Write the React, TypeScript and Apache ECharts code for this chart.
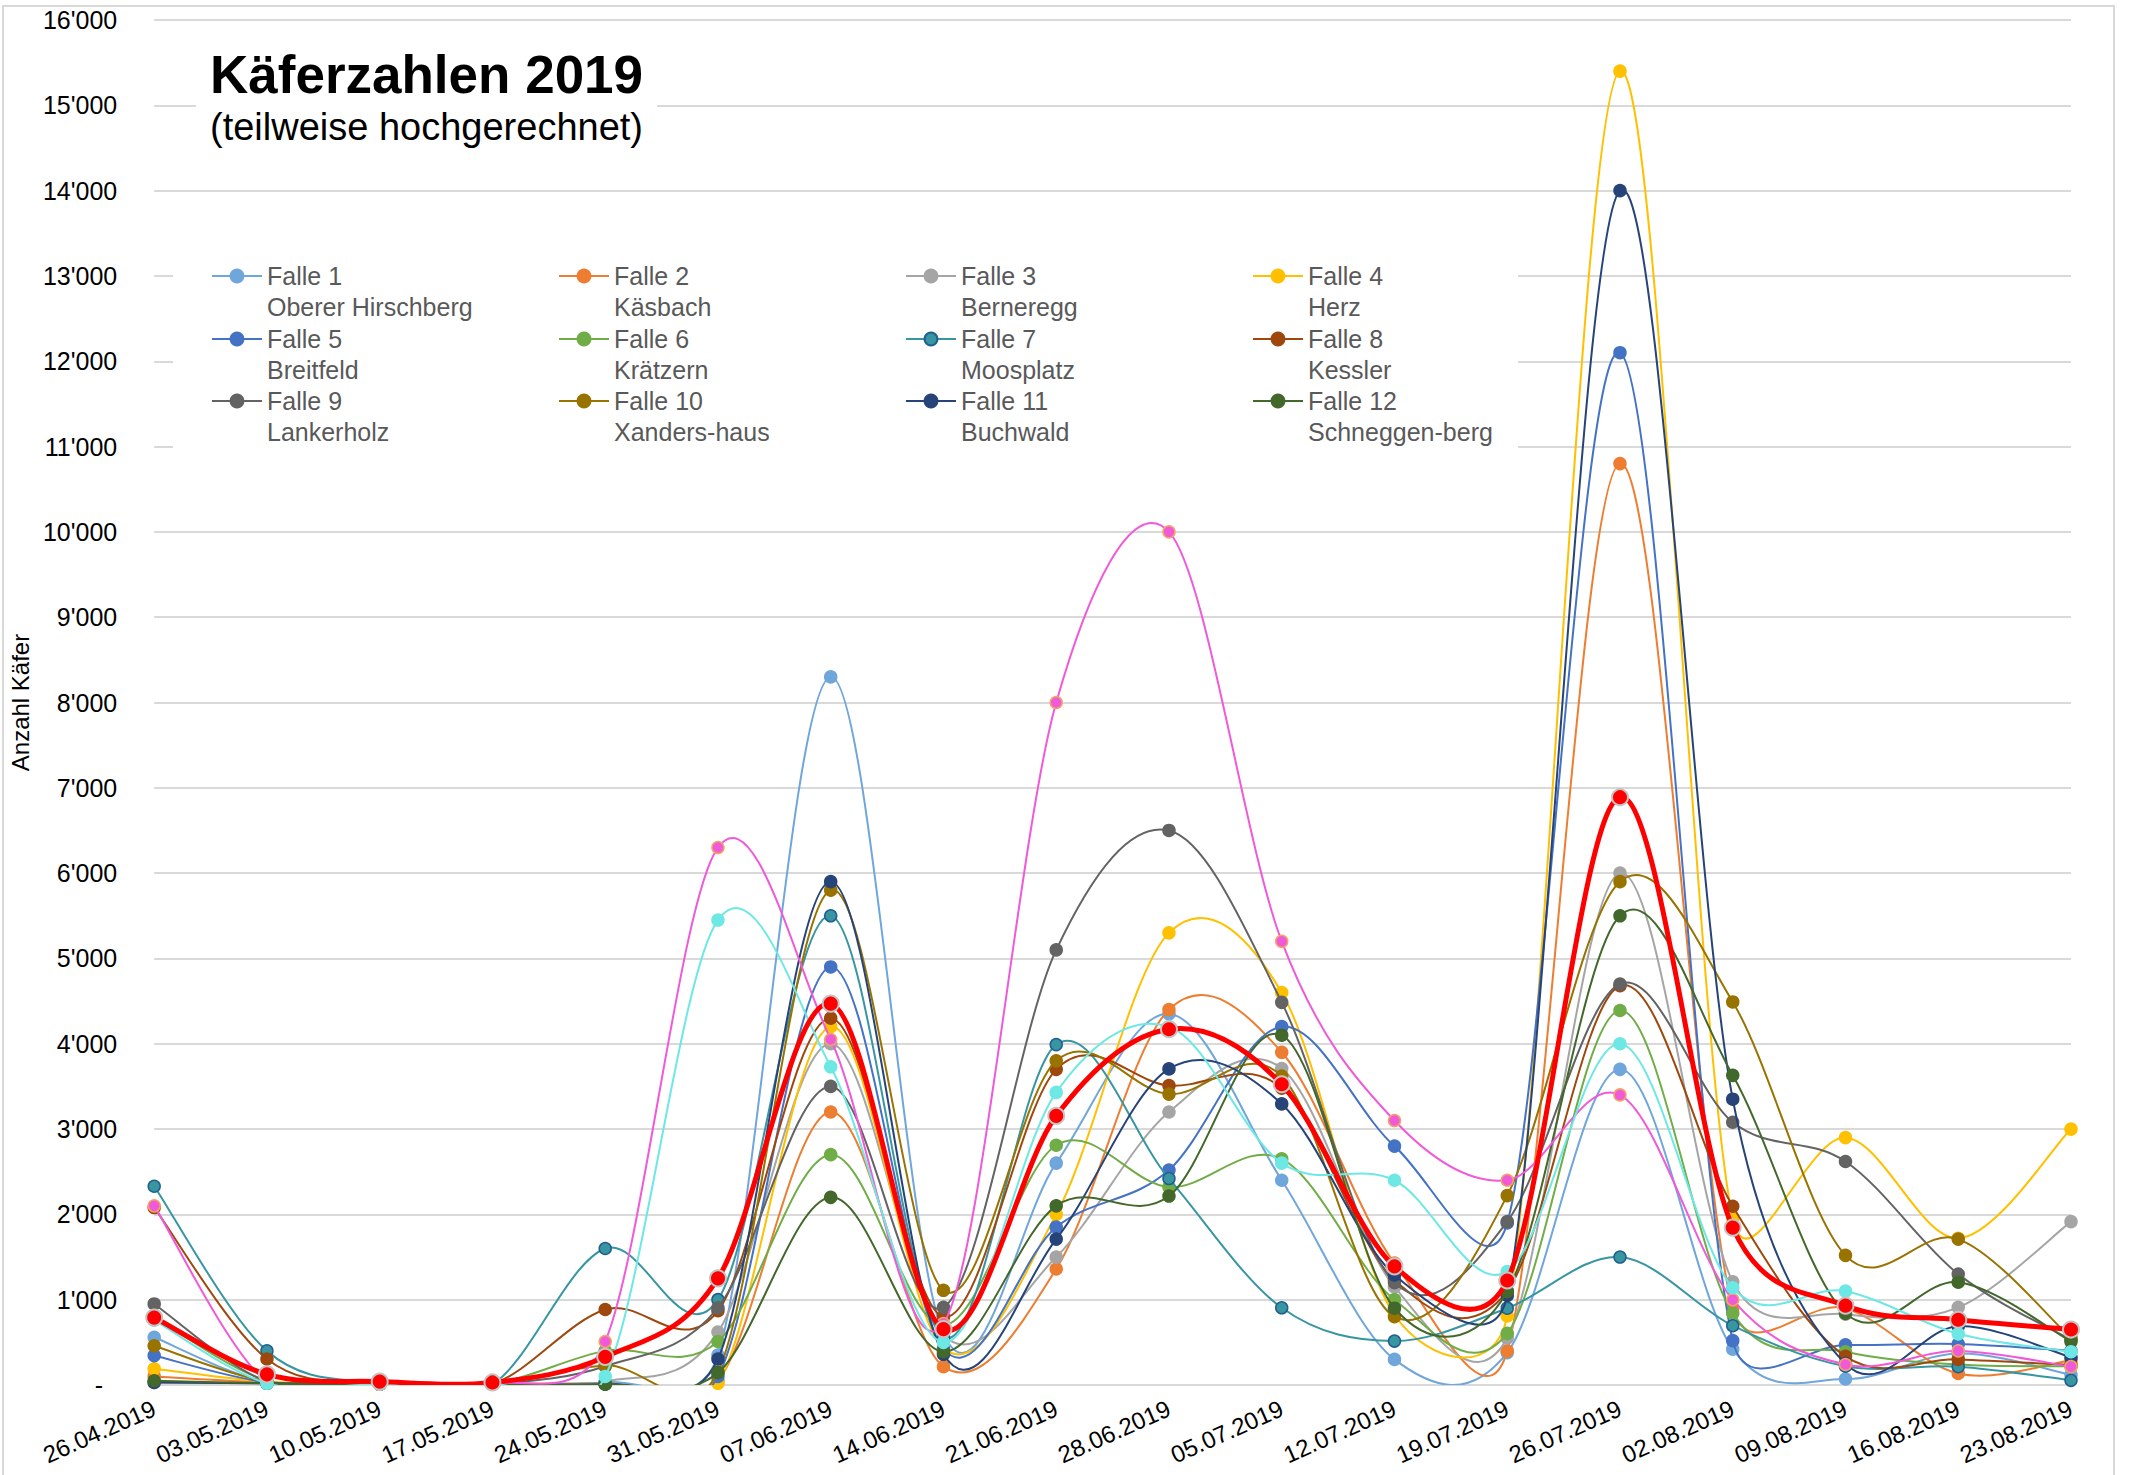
import React, { useEffect, useRef } from "react";
import * as echarts from "echarts";

const categories = [
  "26.04.2019", "03.05.2019", "10.05.2019", "17.05.2019", "24.05.2019", "31.05.2019",
  "07.06.2019", "14.06.2019", "21.06.2019", "28.06.2019", "05.07.2019", "12.07.2019",
  "19.07.2019", "26.07.2019", "02.08.2019", "09.08.2019", "16.08.2019", "23.08.2019",
];

const trapNames = [
  "Falle 1", "Falle 2", "Falle 3", "Falle 4", "Falle 5", "Falle 6",
  "Falle 7", "Falle 8", "Falle 9", "Falle 10", "Falle 11", "Falle 12",
];
const trapSites = [
  "Oberer Hirschberg", "Käsbach", "Berneregg", "Herz", "Breitfeld", "Krätzern",
  "Moosplatz", "Kessler", "Lankerholz", "Xanders-haus", "Buchwald", "Schneggen-berg",
];

const falle1 = [560, 30, 10, 10, 30, 350, 8300, 600, 2600, 4350, 2400, 300, 380, 3700, 420, 70, 370, 120];
const falle2 = [100, 30, 10, 10, 20, 50, 3200, 215, 1360, 4400, 3900, 1430, 400, 10800, 900, 900, 135, 290];
const falle3 = [30, 20, 10, 10, 40, 620, 4000, 580, 1500, 3200, 3710, 1150, 550, 6000, 1210, 830, 910, 1915];
const falle4 = [190, 40, 10, 10, 20, 20, 4200, 430, 2000, 5300, 4600, 820, 810, 15400, 1950, 2900, 1720, 3000];
const falle5 = [345, 30, 10, 10, 20, 100, 4900, 420, 1850, 2520, 4200, 2800, 1900, 12100, 520, 470, 480, 400];
const falle6 = [800, 50, 10, 10, 400, 510, 2700, 700, 2810, 2320, 2650, 1000, 605, 4390, 840, 390, 240, 220];
const falle7 = [2330, 400, 20, 10, 1600, 1000, 5500, 560, 3990, 2420, 905, 515, 900, 1500, 695, 220, 215, 55];
const falle8 = [2080, 305, 20, 10, 885, 870, 4300, 800, 3700, 3510, 3480, 1230, 1100, 4680, 2095, 335, 300, 235];
const falle9 = [950, 40, 10, 10, 220, 905, 3500, 910, 5100, 6500, 4485, 1200, 1915, 4700, 3080, 2620, 1300, 530];
const falle10 = [460, 40, 10, 10, 230, 150, 5800, 1110, 3800, 3410, 3620, 800, 2220, 5900, 4490, 1520, 1710, 550];
const falle11 = [30, 20, 10, 10, 10, 305, 5900, 360, 1710, 3705, 3295, 1290, 1050, 14000, 3350, 250, 690, 325];
const falle12 = [50, 20, 10, 10, 10, 145, 2200, 390, 2100, 2215, 4100, 900, 1095, 5500, 3630, 840, 1205, 510];
const extraPink = [2100, 30, 10, 10, 510, 6300, 4050, 720, 8000, 10000, 5200, 3100, 2400, 3400, 1000, 240, 400, 215];
const extraCyan = [760, 20, 10, 10, 100, 5450, 3730, 500, 3430, 4200, 2600, 2400, 1330, 4000, 1140, 1100, 600, 390];
const average = [790, 125, 40, 30, 330, 1250, 4470, 655, 3155, 4170, 3525, 1390, 1225, 6890, 1845, 930, 765, 650];

const trapData = [falle1, falle2, falle3, falle4, falle5, falle6, falle7, falle8, falle9, falle10, falle11, falle12];

const trapColors = [
  "#6FA6DC", "#ED7D31", "#A5A5A5", "#FFC000", "#4472C4", "#70AD47",
  "#3796A2", "#9E480E", "#636363", "#997300", "#264478", "#43682B",
];
const trapBorders = [
  "#6FA6DC", "#ED7D31", "#A5A5A5", "#FFC000", "#4472C4", "#70AD47",
  "#21608E", "#9E480E", "#636363", "#997300", "#264478", "#43682B",
];

const FONT = "'Liberation Sans', Arial, Helvetica, sans-serif";
const TENSION = 1 / 6;
const CLAMP = 0.55;

function fmtThousands(v: number): string {
  return String(Math.round(v)).replace(/\B(?=(\d{3})+(?!\d))/g, "'");
}

// Catmull-Rom style control points (in, out) of point k, limited by the adjacent segment length
function controls(P: number[][], k: number): [number[], number[]] {
  const p = P[k];
  const prev = P[Math.max(0, k - 1)];
  const next = P[Math.min(P.length - 1, k + 1)];
  const tx = (next[0] - prev[0]) * TENSION;
  const ty = (next[1] - prev[1]) * TENSION;
  const tl = Math.hypot(tx, ty) || 1;
  const lp = Math.hypot(p[0] - prev[0], p[1] - prev[1]);
  const ln = Math.hypot(next[0] - p[0], next[1] - p[1]);
  const fin = Math.min(1, (CLAMP * lp) / tl);
  const fout = Math.min(1, (CLAMP * ln) / tl);
  return [
    [p[0] - tx * fin, p[1] - ty * fin],
    [p[0] + tx * fout, p[1] + ty * fout],
  ];
}

// smoothed curve positioned through the chart's own axes via api.coord, clipped to the plot area
function curveSeries(id: string, values: number[], color: string, width: number, z: number) {
  return {
    type: "custom",
    id,
    name: id,
    data: values.map((v, i) => [i, v]),
    encode: { x: 0, y: 1 },
    z,
    silent: true,
    clip: true,
    renderItem: (params: any, api: any) => {
      const i = params.dataIndex;
      const n = values.length;
      if (i >= n - 1) return null;
      const start = Math.max(0, i - 1);
      const P: number[][] = [];
      for (let k = start; k <= Math.min(n - 1, i + 2); k++) P.push(api.coord([k, values[k]]));
      const a = i - start;
      const c1 = controls(P, a)[1];
      const c2 = controls(P, a + 1)[0];
      const p1 = P[a];
      const p2 = P[a + 1];
      return {
        type: "bezierCurve",
        shape: {
          x1: p1[0], y1: p1[1], x2: p2[0], y2: p2[1],
          cpx1: c1[0], cpy1: c1[1], cpx2: c2[0], cpy2: c2[1],
        },
        style: { stroke: color, lineWidth: width, fill: "none", lineCap: "round" },
      };
    },
  };
}

function markerSeries(name: string, values: number[], color: string, border: string, size: number, borderW: number, z: number) {
  return {
    type: "line",
    name,
    data: values,
    symbol: "circle",
    symbolSize: size,
    showAllSymbol: true,
    lineStyle: { color, width: 0, opacity: 0 },
    itemStyle: { color, borderColor: border, borderWidth: borderW },
    emphasis: { disabled: true },
    z,
  };
}

export default function App() {
  const ref = useRef<HTMLDivElement>(null);

  useEffect(() => {
    if (!ref.current) return;
    const chart = echarts.init(ref.current, null, { renderer: "svg" });

    const colX = [211, 558, 905, 1252];
    const rowY = [276, 339, 401];

    const legends = trapNames.map((n, i) => ({
      data: [n],
      left: colX[i % 4],
      top: rowY[Math.floor(i / 4)] - 46.5,
      padding: 0,
      itemWidth: 50,
      itemHeight: 16,
      itemGap: 0,
      z: 60,
      selectedMode: false,
      lineStyle: { width: 2, opacity: 1 },
      formatter: (name: string) => "\n" + name + "\n" + trapSites[i],
      textStyle: { fontSize: 25, lineHeight: 31, color: "#595959", fontFamily: FONT },
    }));

    const series: any[] = [];
    let z = 2;
    trapNames.forEach((n, i) => {
      series.push(curveSeries("curve-" + n, trapData[i], trapColors[i], 2, z));
      series.push(markerSeries(n, trapData[i], trapColors[i], trapBorders[i], 12, 1.5, z));
      z += 1;
    });
    series.push(curveSeries("curve-extraPink", extraPink, "#F05AD8", 2, z));
    series.push(markerSeries("Zusatz A", extraPink, "#F05AD8", "#F4A267", 12, 1.5, z));
    z += 1;
    series.push(curveSeries("curve-extraCyan", extraCyan, "#6DE8E4", 2, z));
    series.push(markerSeries("Zusatz B", extraCyan, "#6DE8E4", "#6DE8E4", 12, 1.5, z));
    z += 1;
    series.push(curveSeries("curve-average", average, "#FF0000", 5, z));
    series.push(markerSeries("Mittelwert", average, "#FF0000", "#C4C4C4", 16, 2, z));

    chart.setOption({
      animation: false,
      backgroundColor: "#ffffff",
      textStyle: { fontFamily: FONT },
      title: {
        text: "Käferzahlen 2019",
        subtext: "(teilweise hochgerechnet)",
        left: 196,
        top: 33,
        z: 60,
        padding: [15, 14, 15, 14],
        backgroundColor: "#ffffff",
        itemGap: 7,
        textStyle: { fontSize: 53, fontWeight: "bold", color: "#000000", fontFamily: FONT },
        subtextStyle: { fontSize: 38, color: "#000000", fontFamily: FONT },
      },
      legend: legends,
      graphic: [
        {
          type: "rect",
          shape: { x: 3, y: 6, width: 2111, height: 1490 },
          style: { fill: "none", stroke: "#D9D9D9", lineWidth: 2 },
          z: 0,
          silent: true,
        },
        {
          type: "rect",
          shape: { x: 173, y: 250, width: 1345, height: 210 },
          style: { fill: "#ffffff" },
          z: 1,
          silent: true,
        },
      ],
      grid: { left: 150, right: 63, top: 20, bottom: 90 },
      xAxis: {
        type: "category",
        data: categories,
        boundaryGap: false,
        axisLine: { show: false },
        axisTick: { show: false },
        splitLine: { show: false },
        axisLabel: {
          rotate: 24,
          margin: 22,
          fontSize: 24,
          color: "#000000",
          fontFamily: FONT,
          interval: 0,
        },
      },
      yAxis: {
        type: "value",
        min: 0,
        max: 16000,
        interval: 1000,
        name: "Anzahl Käfer",
        nameLocation: "middle",
        nameRotate: 90,
        nameGap: 116,
        nameTextStyle: { fontSize: 24, color: "#000000", fontFamily: FONT },
        axisLine: { show: false },
        axisTick: { show: false },
        splitLine: { lineStyle: { color: "#D9D9D9", width: 2 } },
        axisLabel: {
          fontSize: 25,
          color: "#000000",
          fontFamily: FONT,
          margin: 37,
          formatter: (v: number) => (v === 0 ? "{z|-}" : fmtThousands(v)),
          rich: { z: { fontSize: 25, color: "#000000", padding: [0, 14, 0, 0], fontFamily: FONT } },
        },
      },
      series,
    });

    return () => chart.dispose();
  }, []);

  return (
    <div
      ref={ref}
      style={{ position: "absolute", left: 0, top: 0, width: 2134, height: 1475, background: "#fff" }}
    />
  );
}
